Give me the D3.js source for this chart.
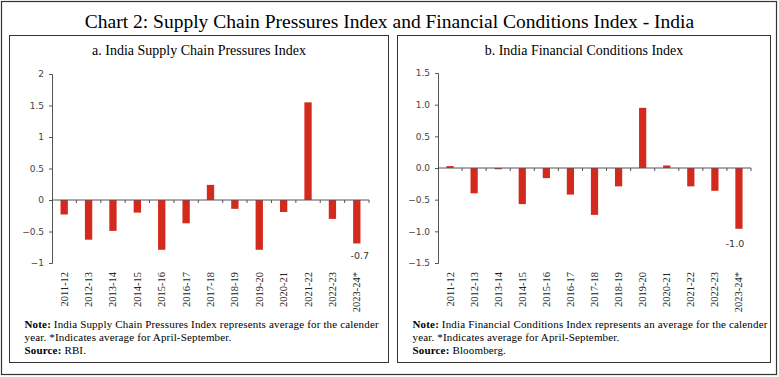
<!DOCTYPE html>
<html>
<head>
<meta charset="UTF-8">
<title>Chart 2</title>
<style>
  body { margin: 0; background: #fff; }
  svg text { font-family: "Liberation Serif", serif; }
  .tick text { font-family: "DejaVu Sans", sans-serif; font-size: 9px; fill: #444; }
  .note { font-size: 11px; letter-spacing: 0.16px; }
</style>
<script src="https://cdn.jsdelivr.net/npm/d3@7"></script>
</head>
<body>
<script>
// years, shared by both panels
const years = ["2011-12", "2012-13", "2013-14", "2014-15", "2015-16", "2016-17", "2017-18",
  "2018-19", "2019-20", "2020-21", "2021-22", "2022-23", "2023-24*"];

// a. supply chain pressures
const scpValues = [-0.23, -0.63, -0.49, -0.20, -0.79, -0.37, 0.24, -0.14, -0.79, -0.19, 1.55, -0.30, -0.69];
const scpTicks = [-1, -0.5, 0, 0.5, 1, 1.5, 2];
const scpLabel = "-0.7";

// b. financial conditions
const fciValues = [0.03, -0.40, -0.02, -0.57, -0.16, -0.42, -0.74, -0.29, 0.95, 0.04, -0.29, -0.36, -0.96];
const fciTicks = [-1.5, -1.0, -0.5, 0.0, 0.5, 1.0, 1.5];
const fciLabel = "-1.0";

const W = 779, H = 377;
const red = "#d42a1e";

const svg = d3.select("body").append("svg")
  .attr("width", W).attr("height", H);

// outer frame
svg.append("rect").attr("x", 1.5).attr("y", 1.5).attr("width", W - 4).attr("height", H - 4)
  .attr("fill", "none").attr("stroke", "#333").attr("stroke-width", 1.2);

svg.append("text").attr("x", W / 2).attr("y", 28).attr("text-anchor", "middle")
  .style("font-size", "19.5px")
  .text("Chart 2: Supply Chain Pressures Index and Financial Conditions Index - India");

function panel(o) {
  const g = svg.append("g");
  g.append("rect").attr("x", o.px).attr("y", 35.5).attr("width", o.pw).attr("height", 327)
    .attr("fill", "none").attr("stroke", "#333").attr("stroke-width", 1);

  g.append("text").attr("x", o.px + o.pw / 2).attr("y", 55).attr("text-anchor", "middle")
    .style("font-size", "14px").text(o.title);

  const x = d3.scaleBand().domain(years).range([o.x0, o.x1]).paddingInner(0.7).paddingOuter(0.35);
  const y = d3.scaleLinear().domain(o.domain).range([o.yb, o.yt]);

  const yAxis = d3.axisLeft(y).tickValues(o.ticks).tickSize(3).tickFormat(o.fmt);
  g.append("g").attr("transform", `translate(${o.x0},0)`).call(yAxis)
    .call(s => s.select(".domain").attr("stroke", "#555"))
    .call(s => s.selectAll(".tick line").attr("stroke", "#555"))
    .call(s => s.selectAll(".tick text").attr("x", -8));

  g.selectAll("rect.bar").data(years).join("rect").attr("class", "bar")
    .attr("x", d => x(d))
    .attr("width", x.bandwidth())
    .attr("y", (d, i) => y(Math.max(0, o.values[i])))
    .attr("height", (d, i) => Math.abs(y(o.values[i]) - y(0)))
    .attr("fill", red);

  // zero line with ticks between categories
  const bounds = d3.range(years.length + 1).map(i => o.x0 + i * (o.x1 - o.x0) / years.length);
  g.append("line").attr("x1", o.x0).attr("x2", o.x1).attr("y1", y(0)).attr("y2", y(0))
    .attr("stroke", "#555");
  g.selectAll("line.xt").data(bounds.slice(1)).join("line").attr("class", "xt")
    .attr("x1", d => d).attr("x2", d => d).attr("y1", y(0)).attr("y2", y(0) + 3)
    .attr("stroke", "#555");

  // year labels
  g.selectAll("text.yr").data(years).join("text").attr("class", "yr")
    .attr("transform", d => `translate(${x(d) + x.bandwidth() / 2 + 3.5},272) rotate(-90)`)
    .attr("text-anchor", "end")
    .style("font-size", "10.5px").attr("fill", "#222")
    .text(d => d);

  // last bar label
  const last = years[years.length - 1];
  g.append("text").attr("x", x(last) + x.bandwidth() / 2 + o.lx).attr("y", y(o.values[years.length - 1]) + o.ly)
    .attr("text-anchor", "middle")
    .style("font-family", "'DejaVu Sans', sans-serif").style("font-size", "9.5px").attr("fill", "#333")
    .text(o.label);

  const note = g.append("text").attr("class", "note").attr("x", o.px + 15).attr("y", 328);
  note.append("tspan").style("font-weight", "bold").text("Note:");
  note.append("tspan").text(" " + o.note1);
  g.append("text").attr("class", "note").attr("x", o.px + 15).attr("y", 341).text(o.note2);
  const src = g.append("text").attr("class", "note").attr("x", o.px + 15).attr("y", 354);
  src.append("tspan").style("font-weight", "bold").text("Source:");
  src.append("tspan").text(" " + o.source);
}

panel({
  px: 9.5, pw: 379, title: "a. India Supply Chain Pressures Index",
  x0: 52, x1: 369, yt: 74, yb: 263, domain: [-1, 2],
  ticks: scpTicks, fmt: d3.format(""), values: scpValues, label: scpLabel, lx: 3, ly: 16,
  note1: "India Supply Chain Pressures Index represents average for the calender",
  note2: "year. *Indicates average for April-September.", source: "RBI."
});

panel({
  px: 397.5, pw: 373, title: "b. India Financial Conditions Index",
  x0: 438, x1: 751, yt: 73, yb: 263, domain: [-1.5, 1.5],
  ticks: fciTicks, fmt: d3.format(".1f"), values: fciValues, label: fciLabel, lx: -4, ly: 18,
  note1: "India Financial Conditions Index represents an average for the calender",
  note2: "year. *Indicates average for April-September.", source: "Bloomberg."
});
</script>
</body>
</html>
